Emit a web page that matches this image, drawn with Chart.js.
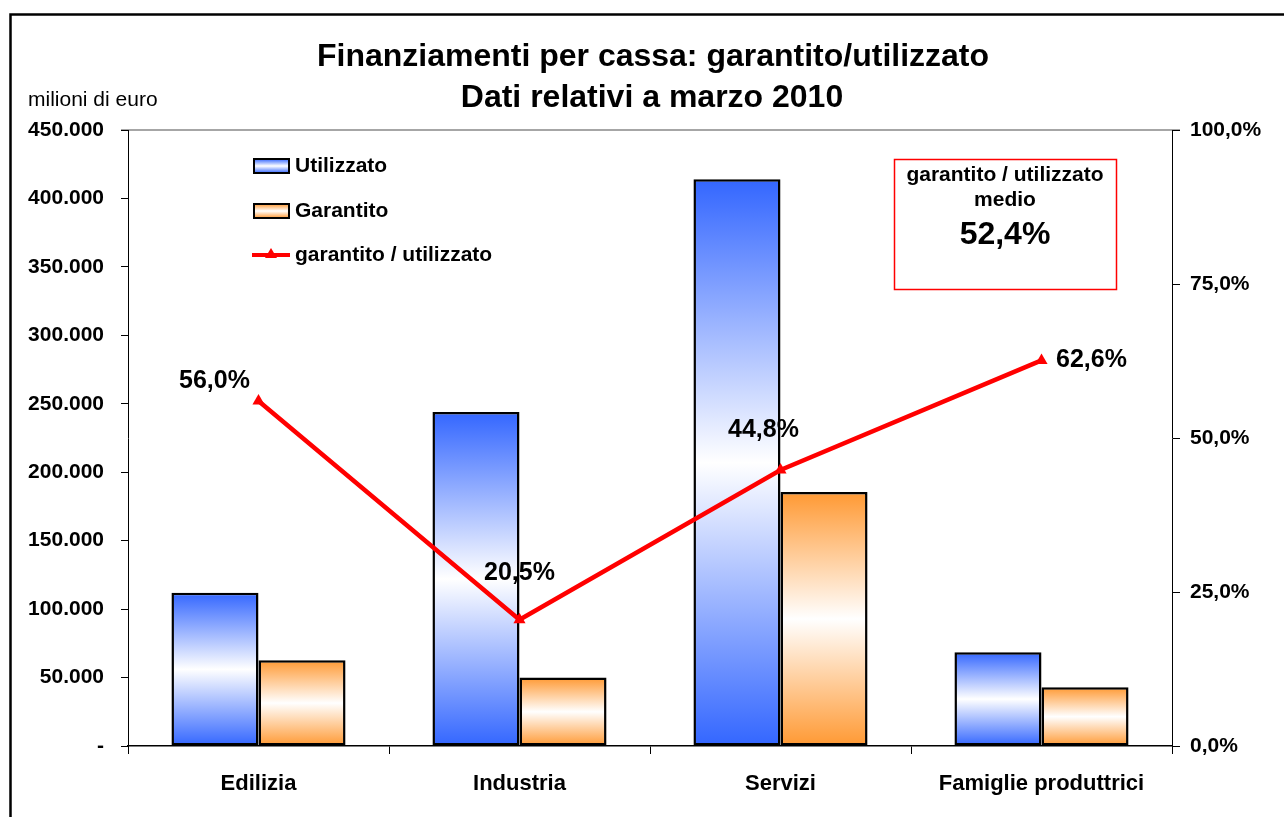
<!DOCTYPE html>
<html>
<head>
<meta charset="utf-8">
<title>Finanziamenti per cassa: garantito/utilizzato</title>
<script src="https://cdn.jsdelivr.net/npm/chart.js@4/dist/chart.umd.min.js"></script>
<style>
    body { margin: 0; background: #fff; }
    canvas { display: block; }
</style>
</head>
<body>
<canvas id="grafico" width="1284" height="817"></canvas>
<script>
// Dati (milioni di euro, marzo 2010)
const categorie = ['Edilizia', 'Industria', 'Servizi', 'Famiglie produttrici'];
const utilizzato = [112000, 244000, 414000, 68500];
const garantito = [62700, 50000, 185500, 42900];
const rapporto = [56.0, 20.5, 44.8, 62.6];   // garantito / utilizzato, in %
const rapportoMedio = '52,4%';

const etichetteSinistra = ['-', '50.000', '100.000', '150.000', '200.000', '250.000', '300.000', '350.000', '400.000', '450.000'];
const etichetteDestra = ['0,0%', '25,0%', '50,0%', '75,0%', '100,0%'];

const titolo = ['Finanziamenti per cassa: garantito/utilizzato', 'Dati relativi a marzo 2010'];
const unita = 'milioni di euro';

// Spostamento delle etichette della linea rispetto al punto
const spostamentiEtichette = [[-44, -20], [0, -47], [-17, -40], [50, 0]];

const FONT = 'Arial, "Liberation Sans", sans-serif';
const BLU = '#3366ff';
const ARANCIO = '#ff9933';
const ROSSO = '#ff0000';

// Sfumatura verticale: colore ai bordi, bianco al centro
function sfumatura(context, colore) {
    const chart = context.chart;
    if (!chart.chartArea || context.type !== 'data') return colore;
    const y = chart.scales.y;
    const top = y.getPixelForValue(context.raw);
    const base = y.getPixelForValue(0);
    if (!isFinite(top) || !isFinite(base) || base - top < 1) return colore;
    const g = chart.ctx.createLinearGradient(0, top, 0, base);
    g.addColorStop(0, colore);
    g.addColorStop(0.5, '#ffffff');
    g.addColorStop(1, colore);
    return g;
}

function formatoPercento(v) {
    return v.toFixed(1).replace('.', ',') + '%';
}

// Disegna titolo, legenda, riquadro e cornice
const decorazioni = {
    id: 'decorazioni',
    beforeDraw(chart) {
        const ctx = chart.ctx;
        const area = chart.chartArea;
        ctx.save();
        // linea grigia superiore dell'area del grafico
        ctx.strokeStyle = '#888';
        ctx.lineWidth = 1.5;
        ctx.beginPath();
        ctx.moveTo(area.left - 7, area.top);
        ctx.lineTo(area.right + 8, area.top);
        ctx.stroke();
        ctx.restore();
    },
    afterDraw(chart) {
        const ctx = chart.ctx;
        ctx.save();

        // cornice esterna
        ctx.strokeStyle = '#000';
        ctx.lineWidth = 2.5;
        ctx.beginPath();
        ctx.moveTo(10.5, 830);
        ctx.lineTo(10.5, 14.5);
        ctx.lineTo(1300, 14.5);
        ctx.stroke();

        // titolo
        ctx.fillStyle = '#000';
        ctx.textAlign = 'center';
        ctx.textBaseline = 'middle';
        ctx.font = 'bold 32px ' + FONT;
        ctx.fillText(titolo[0], 653, 57);
        ctx.fillText(titolo[1], 652, 98);

        // unità di misura
        ctx.textAlign = 'left';
        ctx.font = '21px ' + FONT;
        ctx.fillText(unita, 28, 100);

        // legenda
        ctx.font = 'bold 21px ' + FONT;
        const voci = [
            { testo: chart.data.datasets[0].label, colore: BLU, y: 166 },
            { testo: chart.data.datasets[1].label, colore: ARANCIO, y: 211 }
        ];
        voci.forEach(v => {
            const g = ctx.createLinearGradient(0, v.y - 7, 0, v.y + 7);
            g.addColorStop(0, v.colore);
            g.addColorStop(0.5, '#fff');
            g.addColorStop(1, v.colore);
            ctx.fillStyle = g;
            ctx.fillRect(254, v.y - 7, 35, 14);
            ctx.strokeStyle = '#000';
            ctx.lineWidth = 2;
            ctx.strokeRect(254, v.y - 7, 35, 14);
            ctx.fillStyle = '#000';
            ctx.fillText(v.testo, 295, v.y);
        });
        ctx.strokeStyle = ROSSO;
        ctx.lineWidth = 4;
        ctx.beginPath();
        ctx.moveTo(252, 255);
        ctx.lineTo(290, 255);
        ctx.stroke();
        ctx.fillStyle = ROSSO;
        ctx.beginPath();
        ctx.moveTo(271, 248);
        ctx.lineTo(277, 258);
        ctx.lineTo(265, 258);
        ctx.closePath();
        ctx.fill();
        ctx.fillStyle = '#000';
        ctx.fillText(chart.data.datasets[2].label, 295, 255);

        // riquadro con il valore medio
        ctx.strokeStyle = ROSSO;
        ctx.lineWidth = 1.5;
        ctx.strokeRect(894.5, 159.5, 222, 130);
        ctx.textAlign = 'center';
        ctx.font = 'bold 21px ' + FONT;
        ctx.fillText('garantito / utilizzato', 1005, 175);
        ctx.fillText('medio', 1005, 200);
        ctx.font = 'bold 32px ' + FONT;
        ctx.fillText(rapportoMedio, 1005, 235);

        // etichette della linea
        const meta = chart.getDatasetMeta(2);
        ctx.font = 'bold 25px ' + FONT;
        meta.data.forEach((punto, i) => {
            const [dx, dy] = spostamentiEtichette[i];
            ctx.fillText(formatoPercento(rapporto[i]), punto.x + dx, punto.y + dy);
        });

        ctx.restore();
    }
};

const ctx = document.getElementById('grafico').getContext('2d');
const grafico = new Chart(ctx, {
    type: 'bar',
    data: {
        labels: categorie,
        datasets: [{
            label: 'Utilizzato',
            data: utilizzato,
            backgroundColor: c => sfumatura(c, BLU),
            borderColor: '#000',
            borderWidth: 2.5,
            borderSkipped: false,
            categoryPercentage: 0.667,
            barPercentage: 1,
            order: 2
        }, {
            label: 'Garantito',
            data: garantito,
            backgroundColor: c => sfumatura(c, ARANCIO),
            borderColor: '#000',
            borderWidth: 2.5,
            borderSkipped: false,
            categoryPercentage: 0.667,
            barPercentage: 1,
            order: 2
        }, {
            type: 'line',
            label: 'garantito / utilizzato',
            data: rapporto,
            yAxisID: 'y1',
            borderColor: ROSSO,
            backgroundColor: ROSSO,
            borderWidth: 4.5,
            tension: 0,
            pointStyle: 'triangle',
            pointRadius: 7,
            pointBorderWidth: 0,
            pointBackgroundColor: ROSSO,
            order: 0
        }]
    },
    options: {
        responsive: false,
        animation: false,
        layout: { padding: { top: 130, left: 0, right: 0, bottom: 0 } },
        plugins: {
            legend: { display: false },
            title: { display: false },
            tooltip: { enabled: false }
        },
        scales: {
            x: {
                afterFit: s => { s.height = 71; },
                grid: {
                    offset: true,
                    drawOnChartArea: false,
                    tickLength: 8,
                    color: '#000'
                },
                border: { color: '#000', width: 1.5 },
                ticks: {
                    color: '#000',
                    padding: 17,
                    maxRotation: 0,
                    font: { family: FONT, size: 22, weight: 'bold' }
                }
            },
            y: {
                position: 'left',
                min: 0,
                max: 450000,
                afterFit: s => { s.width = 128; },
                grid: { drawOnChartArea: false, tickLength: 7, color: '#000' },
                border: { color: '#000', width: 1 },
                ticks: {
                    stepSize: 50000,
                    color: '#000',
                    padding: 17,
                    font: { family: FONT, size: 21, weight: 'bold' },
                    callback: (v, i) => etichetteSinistra[i]
                }
            },
            y1: {
                position: 'right',
                min: 0,
                max: 100,
                afterFit: s => { s.width = 112; },
                grid: { drawOnChartArea: false, tickLength: 8, color: '#000' },
                border: { color: '#000', width: 1 },
                ticks: {
                    stepSize: 25,
                    color: '#000',
                    padding: 10,
                    font: { family: FONT, size: 21, weight: 'bold' },
                    callback: (v, i) => etichetteDestra[i]
                }
            }
        }
    },
    plugins: [decorazioni]
});
</script>
</body>
</html>
